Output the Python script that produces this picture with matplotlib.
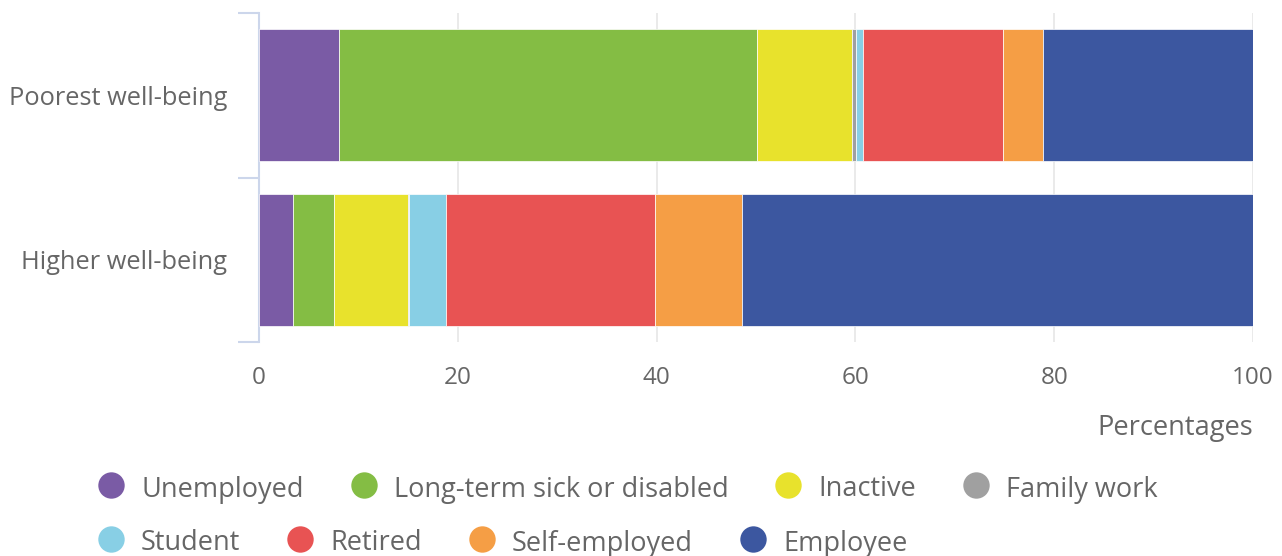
import matplotlib
matplotlib.use("Agg")
import matplotlib.pyplot as plt
import numpy as np

# datos (porcentajes)
grupos = ["Poorest well-being", "Higher well-being"]
series = ["Unemployed", "Long-term sick or disabled", "Inactive", "Family work",
          "Student", "Retired", "Self-employed", "Employee"]
poorest = [8.0, 42.1, 9.6, 0.4, 0.7, 14.0, 4.1, 21.1]
higher = [3.4, 4.1, 7.45, 0.15, 3.7, 21.0, 8.8, 51.4]
colores = ["#7a5ba5", "#84bd44", "#e8e22c", "#a0a0a0",
           "#88cfe5", "#e85353", "#f59e45", "#3c57a0"]
xticks = [0, 20, 40, 60, 80, 100]

plt.rcParams['font.family'] = ['Open Sans', 'DejaVu Sans']
gris = "#666666"
eje = "#ccd6eb"

W, H = 1282, 556
fig = plt.figure(figsize=(W / 100, H / 100), dpi=100)
ax = fig.add_axes([259 / W, 1 - 342 / H, (1253 - 259) / W, 329 / H])

valores = np.array([poorest, higher])
izq = np.zeros(len(grupos))
for i, nombre in enumerate(series):
    ax.barh(np.arange(len(grupos)), valores[:, i], left=izq, height=0.8,
            color=colores[i], edgecolor="white", linewidth=0.5, zorder=3)
    izq += valores[:, i]

ax.set_xlim(0, 100)
ax.set_ylim(1.5, -0.5)
ax.set_xticks(xticks)
ax.set_xticklabels([str(t) for t in xticks])
ax.set_yticks(range(len(grupos)))
ax.set_yticklabels(grupos)
ax.set_yticks([-0.5, 0.5, 1.5], minor=True)
ax.tick_params(axis="y", which="major", length=0, pad=23, labelsize=18.3, labelcolor=gris)
ax.tick_params(axis="y", which="minor", length=15, width=1.5, color=eje)
ax.tick_params(axis="x", length=0, pad=17, labelsize=17.5, labelcolor=gris)
ax.grid(axis="x", color="#e6e6e6", linewidth=1.2, zorder=0)
for s in ["top", "right", "bottom"]:
    ax.spines[s].set_visible(False)
ax.spines["left"].set_color(eje)
ax.spines["left"].set_linewidth(1.5)

fig.text(1253 / W, 1 - 424 / H, "Percentages", ha="right", va="center_baseline",
         fontsize=19.6, color=gris)

# leyenda en filas, como en el original
lax = fig.add_axes([0, 0, 1, 1])
lax.set_xlim(0, W)
lax.set_ylim(H, 0)
lax.axis("off")
fig.canvas.draw()
renderer = fig.canvas.get_renderer()
filas = [series[:4], series[4:]]
ys = [485, 539]
k = 0
for fila, y in zip(filas, ys):
    x = 111
    for nombre in fila:
        lax.plot(x, y, "o", markersize=19, color=colores[k], markeredgewidth=0)
        t = lax.text(x + 30, y + 1, nombre, ha="left", va="center_baseline",
                     fontsize=19.5, color=gris)
        ancho = t.get_window_extent(renderer).width
        x = x + 30 + ancho + 60
        k += 1

fig.savefig("out.png", dpi=100)
